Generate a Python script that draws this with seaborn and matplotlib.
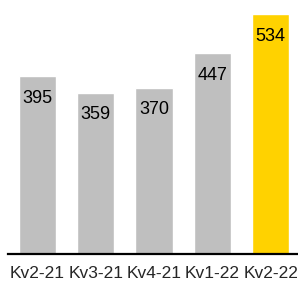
import matplotlib
matplotlib.use("Agg")
import matplotlib.pyplot as plt
import seaborn as sns
import pandas as pd

# Quarterly values
quarters = ['Kv2-21', 'Kv3-21', 'Kv4-21', 'Kv1-22', 'Kv2-22']
values = [395, 359, 370, 447, 534]
bar_colors = ['#BFBFBF', '#BFBFBF', '#BFBFBF', '#BFBFBF', '#FFD200']

sns.set_style('white')
plt.rcParams['font.family'] = ['Liberation Sans', 'DejaVu Sans']

df = pd.DataFrame({'quarter': quarters, 'value': values})

fig = plt.figure(figsize=(2.98, 2.83), dpi=100)
ax = fig.add_axes([8 / 298, 1 - 254 / 283, 290 / 298, 254 / 283])

sns.barplot(data=df, x='quarter', y='value', hue='quarter', palette=bar_colors,
            legend=False, width=0.64, saturation=1, ax=ax)

for i, v in enumerate(values):
    ax.annotate(str(v), xy=(i, v), xytext=(0, -16), textcoords='offset points',
                ha='center', va='center', fontsize=13, color='black')

ax.set_xlim(-0.506, 4.47)
ax.set_ylim(0, 565)
ax.set_yticks([])
ax.set_xlabel('')
ax.set_ylabel('')
for side in ['top', 'right', 'left']:
    ax.spines[side].set_visible(False)
ax.spines['bottom'].set_color('black')
ax.spines['bottom'].set_linewidth(1.6)
ax.tick_params(axis='x', length=0, pad=8.5, labelsize=12.5)

fig.savefig('out.png', dpi=100)
